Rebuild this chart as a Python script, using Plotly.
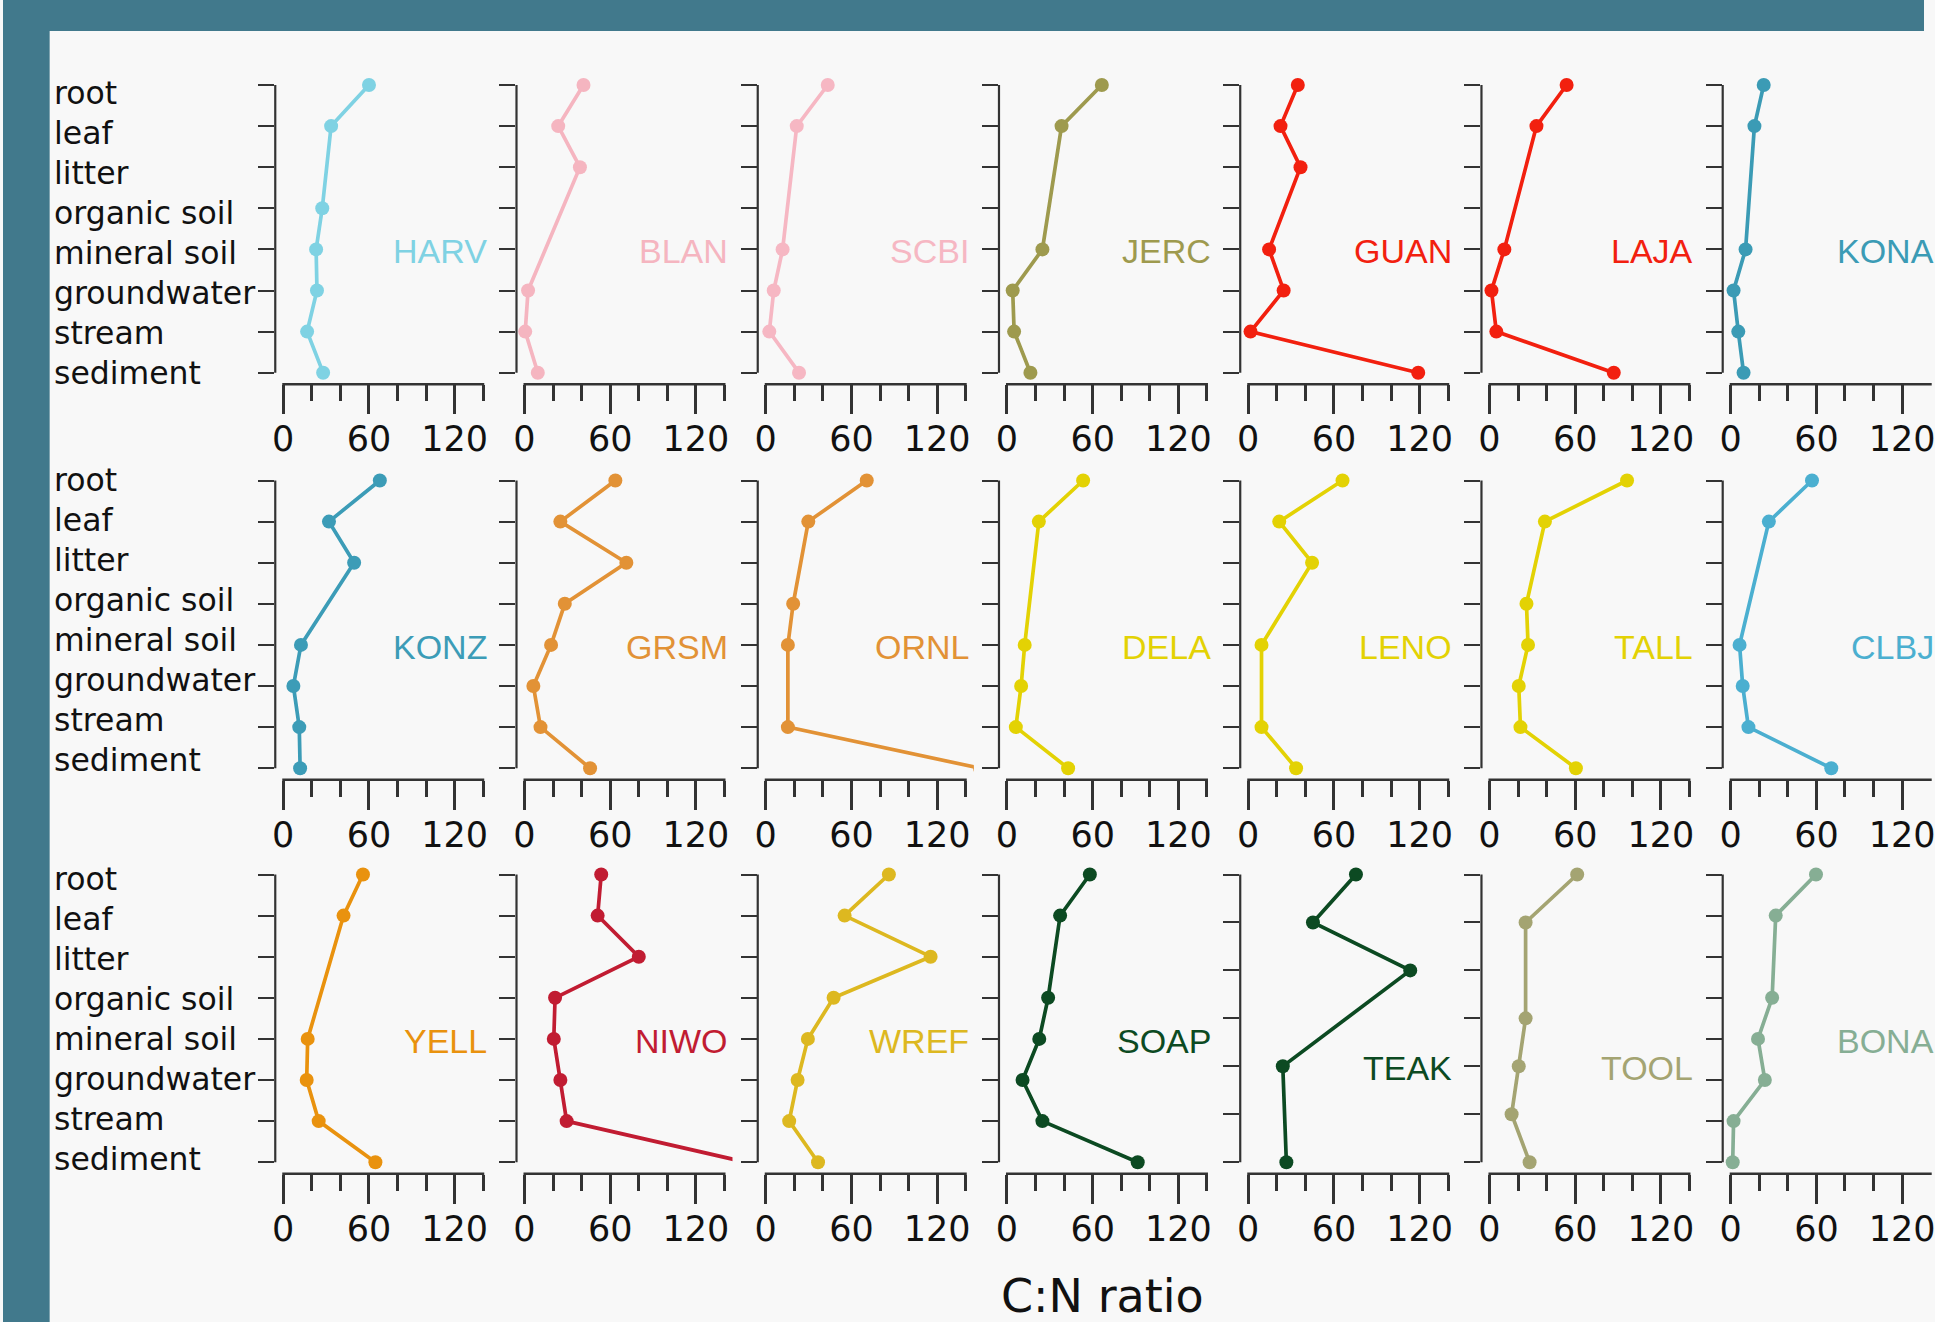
import plotly.graph_objects as go

# ---------------- data ----------------
categories8 = ["root", "leaf", "litter", "organic soil", "mineral soil",
               "groundwater", "stream", "sediment"]
categories7 = ["root", "leaf", "litter", "organic soil", "mineral soil",
               "stream", "sediment"]

site_rows = [["HARV", "BLAN", "SCBI", "JERC", "GUAN", "LAJA", "KONA"],
             ["KONZ", "GRSM", "ORNL", "DELA", "LENO", "TALL", "CLBJ"],
             ["YELL", "NIWO", "WREF", "SOAP", "TEAK", "TOOL", "BONA"]]

HARV = [60, 33.5, None, 27.3, 23, 23.6, 16.7, 27.9]
BLAN = [41.3, 23.6, 38.8, None, None, 2.5, 0.5, 9.3]
SCBI = [43.4, 21.7, None, None, 11.8, 5.6, 2.5, 23.3]
JERC = [66.4, 38.2, None, None, 24.8, 4.0, 5.0, 16.4]
GUAN = [34.7, 22.6, 36.6, None, 14.6, 24.8, 1.6, 119]
LAJA = [54, 32.9, None, None, 10.4, 1.4, 4.8, 87]
KONA = [23.1, 16.6, None, None, 10.4, 2.0, 5.3, 9.0]
KONZ = [67.6, 32, 49.6, None, 12.4, 7.1, 11.2, 11.8]
GRSM = [63.6, 25.1, 71.3, 28.2, 18.6, 6.2, 11.2, 45.9]
ORNL = [70.7, 29.8, None, 19.2, 15.5, None, 15.5, 150]
DELA = [53.3, 22.3, None, None, 12.4, 9.9, 6.2, 42.8]
LENO = [66, 21.7, 44.7, None, 9.3, None, 9.3, 33.5]
TALL = [96.3, 38.8, None, 25.9, 27, 20.5, 21.7, 60.5]
CLBJ = [56.9, 26.7, None, None, 6.2, 8.4, 12.4, 70.4]
YELL = [55.8, 42.2, None, None, 17.1, 16.4, 24.8, 64.5]
NIWO = [53.7, 51.2, 80, 21.4, 20.5, 25.1, 29.5, 155]
WREF = [86.2, 55.2, 115.4, 47.5, 29.5, 22.3, 16.4, 36.6]
SOAP = [58, 37.2, None, 28.8, 22.6, 10.9, 24.8, 91.5]
TEAK = [75.4, 45.3, 113.4, None, 24.2, None, 26.7]
TOOL = [61.4, 25.3, None, 25.3, 20.5, 15.5, 28.1]
BONA = [59.7, 31.5, None, 29, 19.1, 23.9, 2, 1.4]

site_values = {"HARV": HARV, "BLAN": BLAN, "SCBI": SCBI, "JERC": JERC,
               "GUAN": GUAN, "LAJA": LAJA, "KONA": KONA, "KONZ": KONZ,
               "GRSM": GRSM, "ORNL": ORNL, "DELA": DELA, "LENO": LENO,
               "TALL": TALL, "CLBJ": CLBJ, "YELL": YELL, "NIWO": NIWO,
               "WREF": WREF, "SOAP": SOAP, "TEAK": TEAK, "TOOL": TOOL,
               "BONA": BONA}

x_major_ticks = [0, 60, 120]
x_minor_ticks = [20, 40, 80, 100, 140]
x_title = "C:N ratio"
label_category = "mineral soil"

# ---------------- styles ----------------
site_colors = {"HARV": "#7fd2e3", "BLAN": "#f5b5c0", "SCBI": "#f6b7c3",
               "JERC": "#9e9a4e", "GUAN": "#f2200f", "LAJA": "#f2200f",
               "KONA": "#3b9bb5", "KONZ": "#3c9cb7", "GRSM": "#e29236",
               "ORNL": "#e29236", "DELA": "#e3d204", "LENO": "#e3d204",
               "TALL": "#e3d204", "CLBJ": "#4bafd0", "YELL": "#e9920e",
               "NIWO": "#c11c32", "WREF": "#ddb820", "SOAP": "#0c4a22",
               "TEAK": "#0c4a22", "TOOL": "#a4a472", "BONA": "#86ae94"}

W, H = 1935, 1322
AX_COL = "#333333"
TXT_COL = "#111111"
COL0_ZERO = 282.3
COL_STEP = 243.0
PX_UNIT = 1.439
XMIN, XMAX = -5.6, 145.6
ROOT_Y = [85.0, 480.5, 874.5]
STEP8 = 41.1
PLOT_H = 7.56 * STEP8
PAD = 0.28 * STEP8
LABEL_TOP = [92.6, 480.0, 878.7]   # centre of the first row label, px
LABEL_STEP = 40.0

fig = go.Figure()
layout = dict(width=W, height=H, margin=dict(l=0, r=0, t=0, b=0),
              paper_bgcolor="#f8f8f8", plot_bgcolor="rgba(0,0,0,0)",
              showlegend=False)
shapes = []
annotations = []

# borders
shapes.append(dict(type="rect", xref="paper", yref="paper", x0=0, x1=47 / W,
                   y0=0, y1=1, fillcolor="#41798c", line=dict(width=0)))
shapes.append(dict(type="rect", xref="paper", yref="paper", x0=0, x1=1,
                   y0=1 - 31 / H, y1=1, fillcolor="#41798c", line=dict(width=0)))

for r, row in enumerate(site_rows):
    top = ROOT_Y[r] - PAD
    bottom = top + PLOT_H
    for c, site in enumerate(row):
        k = r * 7 + c + 1
        xa = "x" if k == 1 else f"x{k}"
        ya = "y" if k == 1 else f"y{k}"
        vals = site_values[site]
        cats = categories8 if len(vals) == 8 else categories7
        n = len(cats)
        color = site_colors[site]
        xs = [v for v in vals if v is not None]
        ys = [cat for cat, v in zip(cats, vals) if v is not None]
        fig.add_trace(go.Scatter(x=xs, y=ys, mode="lines+markers",
                                 xaxis=xa, yaxis=ya,
                                 line=dict(color=color, width=3.7),
                                 marker=dict(color=color, size=14),
                                 cliponaxis=True, hoverinfo="x+y"))
        zero_px = COL0_ZERO + c * COL_STEP
        left_px = zero_px + XMIN * PX_UNIT
        right_px = zero_px + XMAX * PX_UNIT
        xr_max = XMAX
        right_px_dom = right_px
        if right_px > W:
            xr_max = XMIN + (W - left_px) / PX_UNIT
            right_px_dom = W
        layout["xaxis" if k == 1 else f"xaxis{k}"] = dict(
            domain=[left_px / W, right_px_dom / W], anchor=ya,
            range=[XMIN, xr_max], showgrid=False, zeroline=False,
            showline=False, tickmode="array", tickvals=x_major_ticks,
            ticks="outside", ticklen=29, tickwidth=2.5, tickcolor=AX_COL,
            tickfont=dict(family="DejaVu Sans", size=35, color=TXT_COL),
            ticklabelstandoff=-5, ticklabeloverflow="allow",
            minor=dict(tickmode="array", tickvals=x_minor_ticks,
                       ticks="outside", ticklen=16, tickwidth=2.5,
                       tickcolor=AX_COL, showgrid=False))
        pad_cat = (n - 1) * 0.04
        layout["yaxis" if k == 1 else f"yaxis{k}"] = dict(
            domain=[1 - bottom / H, 1 - top / H], anchor=xa,
            type="category", categoryorder="array", categoryarray=cats,
            range=[(n - 1) + pad_cat, -pad_cat], showgrid=False,
            zeroline=False, showline=False, ticks="outside", ticklen=16,
            tickwidth=2, tickcolor=AX_COL, showticklabels=False)
        # axis lines (first to last tick, like base-R axes)
        step = (PLOT_H / (n - 1 + 2 * pad_cat))
        y_first = top + pad_cat * step
        y_last = y_first + (n - 1) * step
        shapes.append(dict(type="line", xref="paper", yref="paper",
                           x0=left_px / W, x1=left_px / W,
                           y0=1 - y_first / H, y1=1 - y_last / H,
                           line=dict(color=AX_COL, width=2.2)))
        shapes.append(dict(type="line", xref="paper", yref="paper",
                           x0=(zero_px - 1) / W,
                           x1=(zero_px + x_minor_ticks[-1] * PX_UNIT + 1) / W,
                           y0=1 - bottom / H, y1=1 - bottom / H,
                           line=dict(color=AX_COL, width=2.5)))
        # site label
        annotations.append(dict(xref="paper", yref=ya, x=(right_px - 2.5) / W,
                                y=cats.index(label_category),
                                text=site, showarrow=False, xanchor="right",
                                yanchor="middle", yshift=-2,
                                font=dict(family="Liberation Sans", size=34,
                                          color=color)))
        # category labels on the first column
        if c == 0:
            for i, cat in enumerate(cats):
                ypx = LABEL_TOP[r] + i * LABEL_STEP
                annotations.append(dict(xref="paper", yref="paper", x=49 / W,
                                        y=1 - ypx / H, text=cat,
                                        showarrow=False, xanchor="left",
                                        yanchor="middle",
                                        font=dict(family="DejaVu Sans",
                                                  size=31.5, color=TXT_COL)))

annotations.append(dict(xref="paper", yref="paper", x=1108 / W, y=0,
                        text=x_title, showarrow=False, xanchor="center",
                        yanchor="bottom", yshift=-3,
                        font=dict(family="DejaVu Sans", size=46, color=TXT_COL)))

layout["shapes"] = shapes
layout["annotations"] = annotations
fig.update_layout(**layout)

fig.write_html("out.html", config={"displayModeBar": False},
               post_script="document.body.style.margin='0';"
                           "document.body.style.overflow='hidden';")
